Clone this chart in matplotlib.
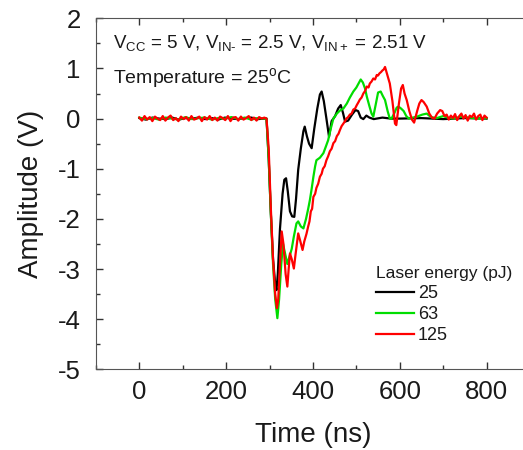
import numpy as np
import matplotlib
matplotlib.use("Agg")
import matplotlib.pyplot as plt

plt.rcParams["font.family"] = ["Liberation Sans", "DejaVu Sans"]
plt.rcParams["mathtext.fontset"] = "custom"
plt.rcParams["mathtext.rm"] = "Liberation Sans"
plt.rcParams["mathtext.it"] = "Liberation Sans:italic"
plt.rcParams["axes.unicode_minus"] = False

# oscilloscope traces (time in ns, amplitude in V)
red_base = [0.02, -0.04, 0.05, -0.02, 0.03, -0.05, 0.04, 0.00, -0.03, 0.05,
            -0.04, 0.02, 0.06, -0.03, 0.01, -0.05, 0.04, -0.01, 0.03, -0.04,
            0.05, -0.02, 0.00, 0.04, -0.05, 0.03, -0.02, 0.05, -0.03, 0.02,
            -0.04, 0.04, 0.01, -0.03, 0.05, -0.05, 0.02, 0.03, -0.04, 0.04,
            -0.02, 0.01, 0.05, -0.03, 0.02, -0.04, 0.03, 0.00, 0.02]
red_pulse_t = [293, 298, 303, 308, 313, 317, 320, 324, 328, 332, 337, 341, 344,
               347, 351, 356, 360, 366, 371, 376, 380, 385, 389, 392, 395, 398,
               401, 405, 408, 412, 416, 420, 423, 427, 431, 435, 439, 443, 447,
               451, 455, 459, 462, 466, 470, 474, 477, 481, 485, 489, 493, 497,
               501, 505, 508, 512, 516, 520, 524, 528, 531, 535, 539, 543, 547,
               550, 553, 557, 560, 563, 566, 571, 577, 583, 589, 592, 598, 603,
               607, 611, 616, 622, 628, 633, 640, 645, 650, 655, 662, 668, 674,
               680, 686, 693, 698, 703]
red_pulse_v = [0.0, -0.6, -1.8, -2.8, -3.5, -3.78, -3.6, -2.9, -2.25, -2.5,
               -3.1, -3.35, -3.0, -2.69, -2.8, -2.99, -2.7, -2.29, -2.45, -2.62,
               -2.45, -2.3, -2.15, -2.05, -1.85, -1.8, -1.56, -1.5, -1.38, -1.3,
               -1.16, -1.1, -1.0, -0.95, -0.83, -0.75, -0.65, -0.6, -0.49, -0.45,
               -0.35, -0.3, -0.23, -0.15, -0.1, -0.05, 0.0, 0.03, 0.08, 0.1,
               0.18, 0.2, 0.27, 0.33, 0.38, 0.42, 0.5, 0.55, 0.64, 0.62, 0.7,
               0.74, 0.8, 0.78, 0.87, 0.86, 0.9, 0.93, 0.96, 0.98, 1.03, 0.88,
               0.70, 0.35, -0.1, -0.13, 0.3, 0.6, 0.67, 0.5, 0.37, 0.15, -0.02,
               -0.08, 0.15, 0.3, 0.37, 0.33, 0.24, 0.1, 0.02, 0.0, 0.1, 0.17,
               0.15, 0.05]
red_tail = [0.08, -0.02, 0.06, 0.01, 0.09, -0.03, 0.05, 0.10, 0.00, 0.07,
            -0.04, 0.06, 0.03, 0.10, -0.02, 0.05, 0.08, -0.03, 0.06, 0.02]

black_base = [0.01, -0.02, 0.02, 0.00, -0.01, 0.02, -0.02, 0.01, 0.00, 0.02,
              -0.01, 0.01, -0.02, 0.02, 0.00, -0.01, 0.01, 0.02, -0.01, 0.00]
black_pulse_t = [293, 298, 303, 308, 313, 316, 319, 324, 330, 334, 338, 342,
                 347, 352, 357, 361, 366, 372, 378, 381, 386, 391, 397, 403,
                 410, 416, 420, 425, 431, 437, 443, 451, 458, 464, 469, 474,
                 481, 490, 498, 504, 510, 516, 523, 530, 540, 560, 580, 600,
                 650, 700, 750, 800]
black_pulse_v = [0.0, -0.8, -1.9, -2.8, -3.3, -3.42, -3.1, -2.2, -1.5, -1.22,
                 -1.19, -1.45, -1.85, -1.95, -1.96, -1.6, -1.02, -0.6, -0.25,
                 -0.16, -0.35, -0.5, -0.59, -0.2, 0.2, 0.48, 0.54, 0.35, 0.0,
                 -0.36, -0.05, 0.05, 0.2, 0.27, 0.12, -0.06, -0.04, 0.08, 0.17,
                 0.15, 0.02, -0.01, 0.06, 0.02, -0.01, 0.02, 0.0, 0.0, 0.01,
                 -0.01, 0.01, 0.0]

green_base = [0.02, -0.01, 0.01, -0.02, 0.02, 0.00, -0.02, 0.03, -0.01, 0.01,
              0.02, -0.02, 0.01, 0.00, 0.03, -0.01, 0.02, -0.02, 0.01, 0.00]
green_pulse_t = [293, 298, 303, 308, 313, 318, 322, 327, 331, 336, 341, 346,
                 351, 356, 362, 366, 372, 378, 384, 389, 393, 397, 401, 405,
                 408, 416, 424, 430, 435, 441, 447, 455, 462, 470, 478, 485,
                 493, 500, 505, 510, 515, 520, 524, 530, 535, 539, 545, 550,
                 556, 561, 566, 572, 577, 581, 588, 593, 597, 603, 609, 615,
                 621, 630, 640, 652, 662, 672, 685, 700, 710, 725, 740, 760,
                 780, 800]
green_pulse_v = [0.0, -0.8, -1.9, -2.9, -3.6, -3.98, -3.6, -2.9, -2.5, -2.7,
                 -2.9, -2.75, -2.6, -2.35, -2.09, -2.05, -2.15, -2.19, -2.0,
                 -1.8, -1.62, -1.4, -1.16, -0.95, -0.83, -0.78, -0.69, -0.55,
                 -0.43, -0.2, 0.0, 0.1, 0.16, 0.2, 0.3, 0.42, 0.54, 0.62, 0.7,
                 0.78, 0.72, 0.6, 0.44, 0.25, 0.1, 0.04, 0.3, 0.52, 0.54, 0.45,
                 0.37, 0.15, 0.0, 0.0, 0.12, 0.22, 0.24, 0.2, 0.15, 0.05, 0.0,
                 0.02, 0.04, 0.08, 0.1, 0.03, 0.01, 0.05, 0.02, 0.0, 0.04, 0.02,
                 0.0, 0.01]

labels = ["25", "63", "125"]
colors = ["#000000", "#00dd00", "#ff0000"]


def trace(base, pulse_t, pulse_v, tail=None):
    t = list(np.linspace(0, 288, len(base))) + pulse_t
    v = list(base) + pulse_v
    if tail is not None:
        t += list(np.linspace(708, 800, len(tail)))
        v += tail
    return t, v


traces = [
    trace(black_base, black_pulse_t, black_pulse_v),
    trace(green_base, green_pulse_t, green_pulse_v),
    trace(red_base, red_pulse_t, red_pulse_v, red_tail),
]

fig = plt.figure(figsize=(5.23, 4.5), dpi=100)
ax = fig.add_axes([0.1834, 0.1793, 0.830, 0.780])

for (t, v), lab, c in zip(traces, labels, colors):
    ax.plot(t, v, color=c, lw=1.6, label=lab)

ax.set_xlim(-100, 900)
ax.set_ylim(-5, 2)
ax.set_xticks([0, 200, 400, 600, 800])
ax.set_xticks(np.arange(-100, 901, 100), minor=True)
ax.set_yticks(np.arange(-5, 3, 1))
ax.set_yticks(np.arange(-5, 2.01, 0.5), minor=True)
ax.tick_params(which="both", direction="in", top=True, right=True,
               labelsize=18.5, colors="#333333", labelcolor="#1a1a1a")
ax.tick_params(axis="x", pad=8)
ax.tick_params(axis="y", pad=11)
ax.tick_params(which="major", length=5, width=1)
ax.tick_params(which="minor", length=3, width=1)
for s in ax.spines.values():
    s.set_color("#555555")

ax.set_xlabel("Time (ns)", fontsize=20, color="#1a1a1a", labelpad=13)
ax.set_ylabel("Amplitude (V)", fontsize=20, color="#1a1a1a", labelpad=10)

ax.text(0.039, 0.915,
        "V$_{\\mathrm{CC}}$ = 5 V, V$_{\\mathrm{IN\u2010}}$ = 2.5 V, V$_{\\mathrm{IN+}}$ = 2.51 V",
        transform=ax.transAxes, fontsize=13.5, color="#1a1a1a", va="baseline")
ax.text(0.039, 0.816, r"Temperature = 25$^{\mathrm{o}}$C",
        transform=ax.transAxes, fontsize=14, color="#1a1a1a", va="baseline")

leg = ax.legend(loc="upper left", bbox_to_anchor=(0.646, 0.294), frameon=False,
                title="Laser energy (pJ)", title_fontsize=12.5, fontsize=13,
                alignment="left", handlelength=2.1, handletextpad=0.2,
                labelspacing=0.22, borderpad=0, borderaxespad=0)
for txt in leg.get_texts():
    txt.set_color("#1a1a1a")
leg.get_title().set_color("#1a1a1a")

fig.savefig("out.png", dpi=100)
